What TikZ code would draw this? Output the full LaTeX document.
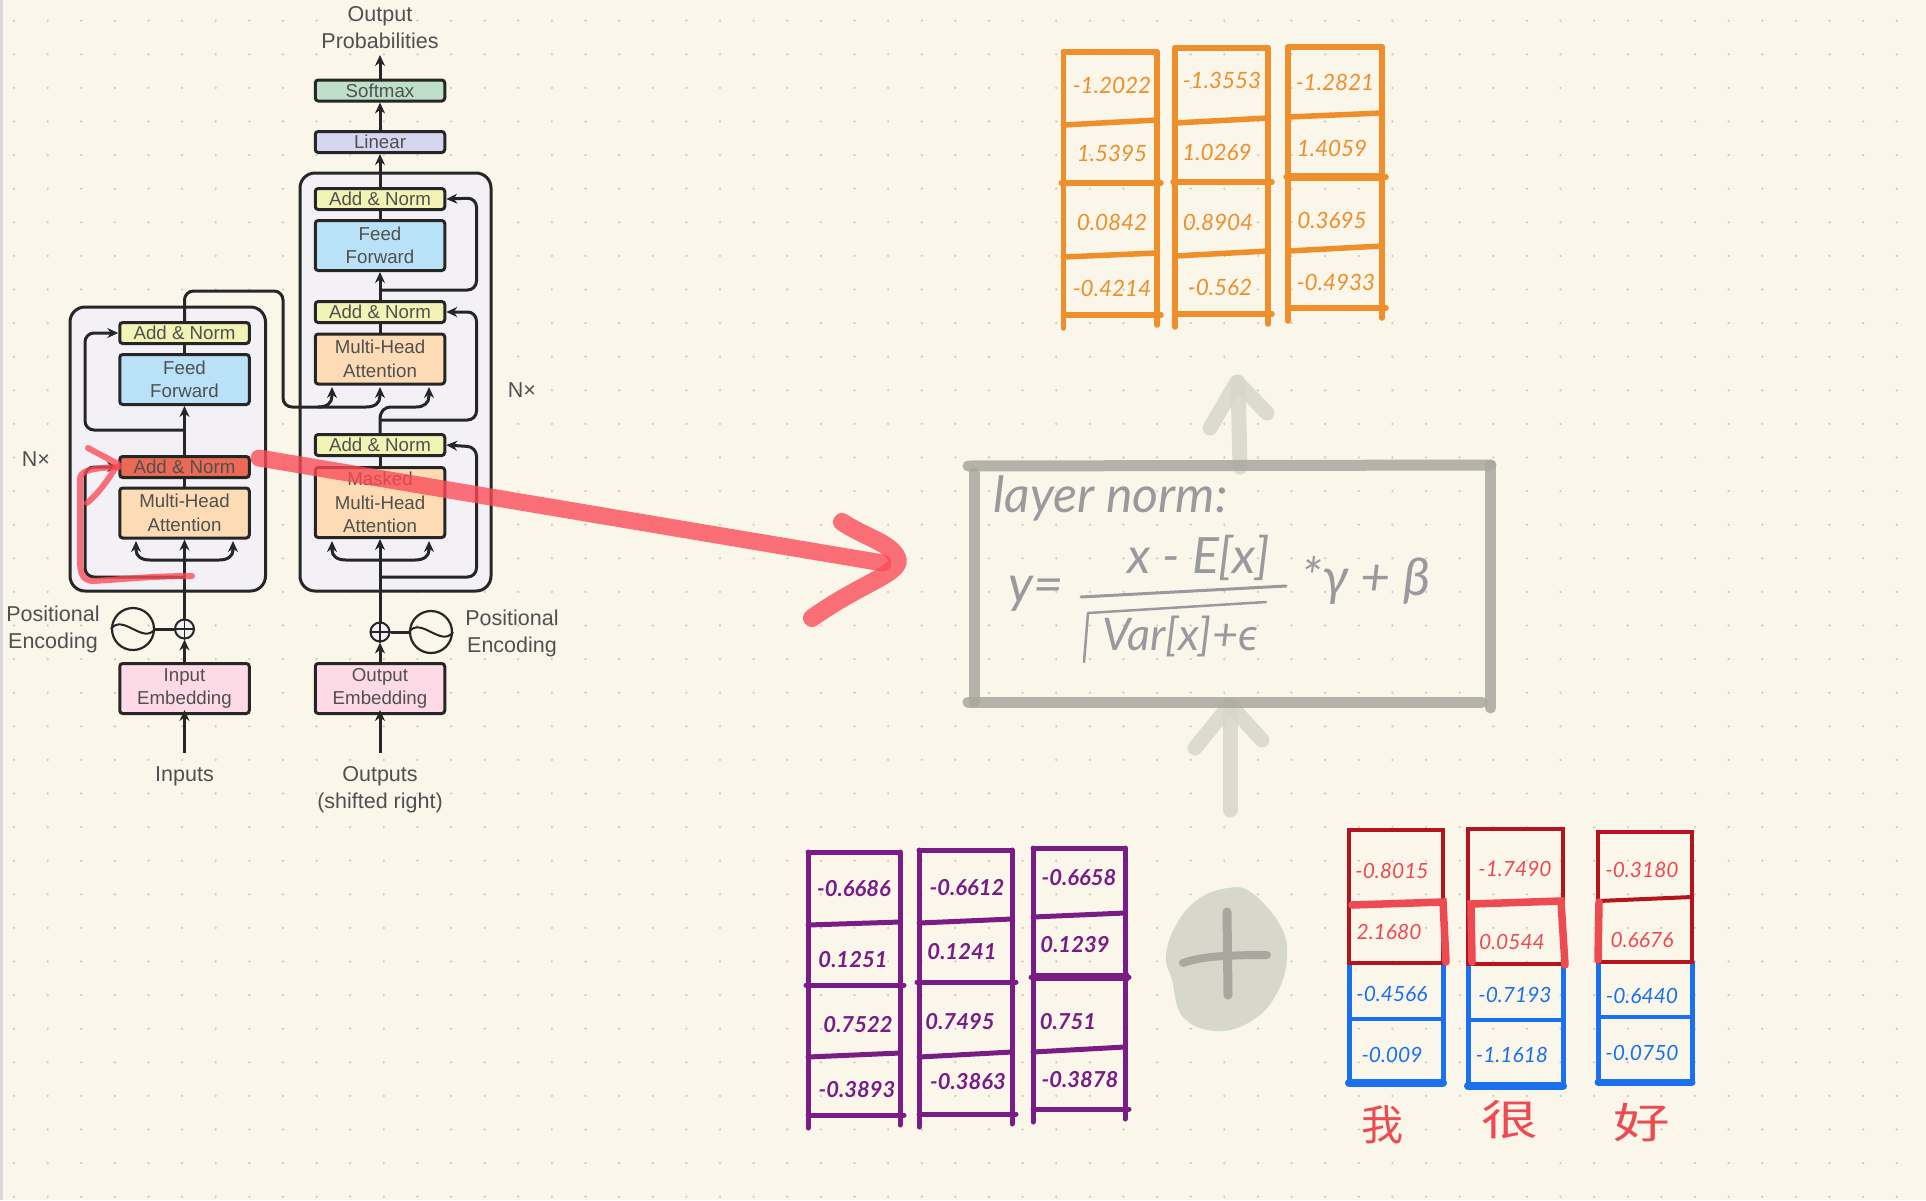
\documentclass[tikz,border=0pt]{standalone}
\usepackage{fontspec}
\setmainfont{Liberation Sans}
\newfontfamily\handfont{Lato}
\newfontfamily\cjkfont{Noto Sans CJK SC}
\usetikzlibrary{arrows.meta}
\definecolor{paper}{HTML}{FAF6EA}
\definecolor{griddot}{HTML}{CFCEC5}
\definecolor{ink}{HTML}{262626}
\definecolor{labelink}{HTML}{505050}
\definecolor{stackfill}{HTML}{F3F1F5}
\definecolor{softmaxfill}{HTML}{BFE0C8}
\definecolor{linearfill}{HTML}{D6D6F0}
\definecolor{addfill}{HTML}{F1F4B4}
\definecolor{feedfill}{HTML}{B9E1F7}
\definecolor{attnfill}{HTML}{FDDCB5}
\definecolor{embedfill}{HTML}{FDDAE6}
\definecolor{hotfill}{HTML}{EA6A55}
\definecolor{strokered}{HTML}{FB4A55}
\definecolor{cellorange}{HTML}{EF8F2B}
\definecolor{cellpurple}{HTML}{7A1C86}
\definecolor{celldark}{HTML}{B5141E}
\definecolor{cellred}{HTML}{EE4A52}
\definecolor{cellblue}{HTML}{1A70EE}
\definecolor{sketchgray}{HTML}{A9A89E}
\definecolor{sketchlight}{HTML}{D8D7CC}
\definecolor{sketchink}{HTML}{9A9A9E}
\tikzset{
  block/.style={draw=ink,line width=3pt,rounded corners=3pt,align=center,inner sep=0pt,
    minimum width=129.5pt,text=labelink,font=\fontsize{18.7}{23.4}\selectfont},
  thinblock/.style={block,minimum height=21pt},
  wideblock/.style={block,minimum height=50pt},
  stack/.style={draw=ink,line width=3pt,rounded corners=15pt,fill=stackfill},
  wire/.style={draw=ink,line width=3pt,rounded corners=9pt},
  flow/.style={wire,-{Stealth[length=11pt,width=10pt]}},
  curveflow/.style={flow,sharp corners},
  caption/.style={text=labelink,align=center,inner sep=0pt,font=\fontsize{21.5}{27}\selectfont},
  pluscirc/.style={circle,draw=ink,line width=2pt,fill=stackfill,minimum size=19pt,inner sep=0pt},
  sincirc/.style={circle,draw=ink,line width=2.2pt,minimum size=42pt,inner sep=0pt},
  handnum/.style={inner sep=0pt,font=\handfont\itshape\fontsize{21}{25}\selectfont},
  orangenum/.style={inner sep=0pt,text=cellorange,font=\handfont\itshape\fontsize{22.5}{27}\selectfont},
  purplenum/.style={inner sep=0pt,text=cellpurple,font=\handfont\bfseries\itshape\fontsize{22}{26}\selectfont},
  redstroke/.style={draw=strokered,line cap=round,line join=round,opacity=.78},
  graybar/.style={draw=sketchgray,line width=11pt,line cap=round,opacity=.85},
  lightbar/.style={draw=sketchlight,line width=15pt,line cap=round,line join=round,opacity=.85},
  handink/.style={text=sketchink,inner sep=0pt}
}
% one hand drawn column: x left, x right, top, row 2 (l,r), row 3, row 4 (l,r), bottom
\newcommand{\sketchcol}[9]{
  \draw (#1,#3) -- (#2,#3);
  \draw (#1,#4) -- (#2,#5);
  \draw (#1-2,#6) -- (#2+4,#6);
  \draw (#1,#7) -- (#2,#8);
  \draw (#1,#9) -- (#2+4,#9);
  \draw (#1,#3) -- (#1,#9+13);
  \draw (#2,#3) -- (#2,#9+10);
}
\begin{document}
\begin{tikzpicture}[x=1pt,y=-1pt]
  \useasboundingbox (0,0) rectangle (1926,1200);
  \fill[paper] (0,0) rectangle (1926,1200);
  \fill[gray!30] (0,0) rectangle (2.5,1200);
  \foreach \i in {0,...,56}
    \foreach \j in {0,...,35}
      \fill[griddot] ({14+33.62*\i},{20.7+33.6*\j}) circle (1.3pt);

  % encoder and decoder stacks
  \draw[stack] (70,307) rectangle (265.5,591);
  \draw[stack] (300,173) rectangle (491,591);

  % blocks
  \node[thinblock,fill=softmaxfill] (softmax) at (380,90.5) {Softmax};
  \node[thinblock,fill=linearfill] (linear) at (380,142) {Linear};
  \node[thinblock,fill=addfill] (addD3) at (380,199) {Add \& Norm};
  \node[wideblock,fill=feedfill] (feedD) at (380,245.5) {Feed\\Forward};
  \node[thinblock,fill=addfill] (addD2) at (380,312) {Add \& Norm};
  \node[wideblock,fill=attnfill] (attnD) at (380,359) {Multi-Head\\Attention};
  \node[thinblock,fill=addfill] (addD1) at (380,445) {Add \& Norm};
  \node[block,minimum height=70pt,fill=attnfill] (maskD) at (380,502.5) {Masked\\Multi-Head\\Attention};
  \node[wideblock,fill=embedfill] (embedD) at (380,688.5) {Output\\Embedding};
  \node[thinblock,fill=addfill] (addE2) at (184.5,333) {Add \& Norm};
  \node[wideblock,fill=feedfill] (feedE) at (184.5,379.5) {Feed\\Forward};
  \node[thinblock,fill=hotfill] (addE1) at (184.5,467) {Add \& Norm};
  \node[wideblock,fill=attnfill] (attnE) at (184.5,513) {Multi-Head\\Attention};
  \node[wideblock,fill=embedfill] (embedE) at (184.5,688.5) {Input\\Embedding};
  \node[pluscirc] (plusE) at (184.5,629) {};
  \node[pluscirc] (plusD) at (380,632) {};
  \node[sincirc] (sinE) at (133,629) {};
  \node[sincirc] (sinD) at (431,632) {};

  % captions
  \node[caption] (outprob) at (380,28) {Output\\Probabilities};
  \node[caption] (inputs) at (184.5,776) {Inputs};
  \node[caption] (outputs) at (380,790) {Outputs\\(shifted right)};
  \node[caption,anchor=center] (posE) at (53,629) {Positional\\Encoding};
  \node[caption] (posD) at (512,633) {Positional\\Encoding};
  \node[caption] (nxD) at (522,390) {N×};
  \node[caption] (nxE) at (36,459) {N×};

  % free ends
  \coordinate (outTip) at (380,55);
  \coordinate (resD3) at (380,290);
  \coordinate (resD2) at (380,420);
  \coordinate (resD1) at (380,577);
  \coordinate (resE2) at (184.5,430);
  \coordinate (resE1) at (184.5,577);
  \coordinate (splitE) at (184.5,560);
  \coordinate (splitD) at (380,560);
  \coordinate (startE) at (184.5,753);
  \coordinate (startD) at (380,753);
  \coordinate (crossJoin) at (318,407);

  % straight connectors
  \draw[flow] (softmax.north) -- (outTip);
  \draw[flow] (linear.north) -- (softmax.south);
  \draw[flow] (addD3.north) -- (linear.south);
  \draw[wire] (feedD.north) -- (addD3.south);
  \draw[flow] (addD2.north) -- (feedD.south);
  \draw[wire] (attnD.north) -- (addD2.south);
  \draw[flow] (addE1.north) -- (feedE.south);
  \draw[wire] (feedE.north) -- (addE2.south);
  \draw[wire] (attnE.north) -- (addE1.south);
  \draw[wire] (maskD.north) -- (addD1.south);
  \draw[flow] (plusE.north) -- (attnE.south);
  \draw[flow] (plusD.north) -- (maskD.south);
  \draw[flow] (embedE.north) -- (plusE.south);
  \draw[flow] (embedD.north) -- (plusD.south);
  \draw[flow] (startE) -- ([yshift=5pt]embedE.south);
  \draw[flow] (startD) -- ([yshift=5pt]embedD.south);
  \draw[wire] (sinE.east) -- (plusE.west);
  \draw[wire] (sinD.west) -- (plusD.east);
  \draw[line width=1.4pt,draw=ink] (plusE.north) -- (plusE.south) (plusE.west) -- (plusE.east);
  \draw[line width=1.4pt,draw=ink] (plusD.north) -- (plusD.south) (plusD.west) -- (plusD.east);
  \draw[line width=2pt,draw=ink] (sinE.west) .. controls +(12,-16) and +(-12,16) .. (sinE.east);
  \draw[line width=2pt,draw=ink] (sinD.west) .. controls +(12,-16) and +(-12,16) .. (sinD.east);

  % residual paths
  \draw[flow] (resD3) -- (476.5,290) -- (476.5,198) -- (addD3.east);
  \draw[flow] (resD2) -- (476.5,420) -- (476.5,312) -- (addD2.east);
  \draw[flow] (resD1) -- (476.5,577) -- (476.5,447) -- (addD1.east);
  \draw[flow] (resE2) -- (85,430) -- (85,333) -- (addE2.west);
  \draw[flow] (resE1) -- (85,577) -- (85,467) -- (addE1.west);

  % attention inputs
  \draw[curveflow] (splitE) -- (150,560) .. controls (141,560) and (136,556) .. (136,550) -- (136,541);
  \draw[curveflow] (splitE) -- (219,560) .. controls (228,560) and (233,556) .. (233,550) -- (233,541);
  \draw[curveflow] (splitD) -- (346,560) .. controls (337,560) and (332,556) .. (332,550) -- (332,541);
  \draw[curveflow] (splitD) -- (415,560) .. controls (424,560) and (429,556) .. (429,550) -- (429,541);

  % encoder to decoder
  \draw[wire] (addE2.north) -- (184.5,291) -- (283,291) -- (283,407) -- (crossJoin);
  \draw[curveflow] (crossJoin) .. controls (327,407) and (332,403) .. (332,396) -- (332,387);
  \draw[curveflow] (crossJoin) -- (366,407) .. controls (375,407) and (380,403) .. (380,396) -- (380,387);
  \draw[curveflow] (addD1.north) -- (resD2) .. controls (380,411) and (384,407) .. (392,407) -- (416,407)
    .. controls (424,407) and (429,403) .. (429,396) -- (429,387);

  % red marks
  \draw[redstroke,line width=6pt] (192,576) .. controls (150,576) and (115,580) .. (92,581)
    .. controls (82,580) and (80,572) .. (80,560) -- (80,480) .. controls (80,472) and (86,468) .. (119,467);
  \draw[redstroke,line width=6pt] (88,448) -- (118,464) .. controls (108,480) and (98,494) .. (87,503);
  \draw[redstroke,line width=17pt] (259,458) -- (883,563);
  \draw[redstroke,line width=18pt] (842,522) .. controls (866,538) and (895,544) .. (898,561)
    .. controls (896,575) and (860,584) .. (812,618);

  % layer norm box
  \draw[lightbar] (1240,467) -- (1238,382);
  \draw[lightbar] (1210,428) -- (1237,382) -- (1267,413);
  \draw[lightbar] (1230,810) -- (1230,705);
  \draw[lightbar] (1195,748) -- (1230,705) -- (1262,740);
  \draw[graybar] (968,466) -- (1491,465);
  \draw[graybar] (974,473) -- (974,702);
  \draw[graybar] (968,702) -- (1482,702);
  \draw[graybar] (1490.5,465) -- (1490.5,708);
  \node[handink,anchor=west,font=\handfont\itshape\fontsize{50}{56}\selectfont] (layernorm) at (993,498) {layer norm:};
  \node[handink,font=\handfont\itshape\fontsize{52}{58}\selectfont] (yeq) at (1036,594) {y=};
  \node[handink,font=\handfont\itshape\fontsize{50}{56}\selectfont] (numer) at (1199,558) {x - E[x]};
  \node[handink,font=\handfont\itshape\fontsize{45}{50}\selectfont] (denom) at (1180,636) {Var[x]+ϵ};
  \node[handink,font=\handfont\itshape\fontsize{52}{58}\selectfont] (tail) at (1366,580) {*γ + β};
  \draw[sketchink,line width=3pt,line cap=round] (1081,597) -- (1286,586);
  \draw[sketchink,line width=2.5pt,line cap=round,line join=round] (1084,662) -- (1088,613) -- (1266,602);

  % plus between the tables
  \fill[sketchlight] plot[smooth cycle,tension=.7] coordinates {(1228,888) (1252,893) (1280,925) (1287,957)
    (1277,993) (1253,1020) (1217,1031) (1183,1017) (1172,980) (1166,957) (1175,927) (1197,900)};
  \draw[draw=sketchgray,line width=9pt,line cap=round] (1227,912) -- (1228,995);
  \draw[draw=sketchgray,line width=8pt,line cap=round] (1183,963) .. controls (1200,957) and (1220,955) .. (1267,955);

  % orange table
  \begin{scope}[draw=cellorange,line width=5.5pt,line cap=round]
    \sketchcol{1063.3}{1157}{52}{125}{120}{183}{257}{253}{315}
    \sketchcol{1175}{1268}{48}{123}{118}{182}{256}{251}{314}
    \sketchcol{1288}{1382}{47}{117}{113}{177}{251}{246}{308}
    \draw[line width=8pt,line cap=butt] (1288,177) -- (1385,177);
  \end{scope}
  \begin{scope}[every node/.style={orangenum}]
    \node (o11) at (1112,85) {-1.2022};
    \node (o12) at (1222,80) {-1.3553};
    \node (o13) at (1335,82) {-1.2821};
    \node (o21) at (1112,153) {1.5395};
    \node (o22) at (1217,152) {1.0269};
    \node (o23) at (1332,148) {1.4059};
    \node (o31) at (1112,222) {0.0842};
    \node (o32) at (1218,222) {0.8904};
    \node (o33) at (1332,220) {0.3695};
    \node (o41) at (1112,288) {-0.4214};
    \node (o42) at (1220,287) {-0.562};
    \node (o43) at (1336,282) {-0.4933};
  \end{scope}

  % purple table
  \begin{scope}[draw=cellpurple,line width=5pt,line cap=round]
    \sketchcol{808}{900}{852}{925}{922}{985}{1057}{1053}{1115}
    \sketchcol{919}{1012}{850}{923}{919}{982}{1057}{1052}{1114}
    \sketchcol{1033}{1125}{848}{917}{913}{977}{1052}{1047}{1109}
    \draw[line width=8pt,line cap=butt] (1033,977) -- (1129,977);
  \end{scope}
  \begin{scope}[every node/.style={purplenum}]
    \node (p11) at (854,889) {-0.6686};
    \node (p12) at (967,888) {-0.6612};
    \node (p13) at (1079,878) {-0.6658};
    \node (p21) at (853,960) {0.1251};
    \node (p22) at (962,952) {0.1241};
    \node (p23) at (1075,945) {0.1239};
    \node (p31) at (858,1025) {0.7522};
    \node (p32) at (960,1022) {0.7495};
    \node (p33) at (1068,1022) {0.751};
    \node (p41) at (857,1090) {-0.3893};
    \node (p42) at (968,1082) {-0.3863};
    \node (p43) at (1080,1080) {-0.3878};
  \end{scope}

  % embedding table, lower half
  \begin{scope}[draw=cellblue,line width=5pt,line cap=round]
    \draw (1349,963) -- (1349,1083);
    \draw (1443,1083) -- (1443,963);
    \draw (1468,964) -- (1468,1086);
    \draw (1563,1086) -- (1563,964);
    \draw (1598,962) -- (1598,1082);
    \draw (1692,1082) -- (1692,962);
    \draw[line width=8pt] (1349,1083) -- (1443,1083);
    \draw[line width=8pt] (1468,1086) -- (1563,1086);
    \draw[line width=7pt] (1598,1082) -- (1692,1082);
    \draw[line width=3.5pt] (1349,1019) -- (1443,1019);
    \draw[line width=3.5pt] (1468,1020) -- (1563,1020);
    \draw[line width=3.5pt] (1598,1017) -- (1692,1017);
  \end{scope}
  % embedding table, upper half
  \begin{scope}[draw=celldark,line width=4pt]
    \draw (1349,963) -- (1349,830) -- (1443,830) -- (1443,963) -- cycle;
    \draw (1468,964) -- (1468,829) -- (1563,829) -- (1563,964) -- cycle;
    \draw (1598,962) -- (1598,832) -- (1692,832) -- (1692,962) -- cycle;
    \draw (1598,901) -- (1692,897);
  \end{scope}
  \begin{scope}[draw=cellred,line width=7.5pt,line cap=round]
    \draw (1352,905) -- (1443,902) -- (1446,962);
    \draw (1472,962) -- (1471,904) -- (1561,901) -- (1565,965);
    \draw (1599,902) -- (1598,960);
  \end{scope}
  \begin{scope}[every node/.style={handnum,text=cellred}]
    \node (r11) at (1392,871) {-0.8015};
    \node (r12) at (1515,869) {-1.7490};
    \node (r13) at (1642,870) {-0.3180};
    \node (r21) at (1389,932) {2.1680};
    \node (r22) at (1512,942) {0.0544};
    \node (r23) at (1642,940) {0.6676};
  \end{scope}
  \begin{scope}[every node/.style={handnum,text=cellblue}]
    \node (b11) at (1392,994) {-0.4566};
    \node (b12) at (1515,995) {-0.7193};
    \node (b13) at (1642,996) {-0.6440};
    \node (b21) at (1392,1055) {-0.009};
    \node (b22) at (1512,1055) {-1.1618};
    \node (b23) at (1642,1053) {-0.0750};
  \end{scope}
  \begin{scope}[every node/.style={inner sep=0pt,text=cellred,font=\cjkfont\fontsize{42}{48}\selectfont}]
    \node (wo) at (1382,1125) {我};
    \node (hen) at (1510,1120) {\scalebox{1.35}[1]{很}};
    \node (hao) at (1642,1123) {\scalebox{1.35}[1]{好}};
  \end{scope}
\end{tikzpicture}
\end{document}
